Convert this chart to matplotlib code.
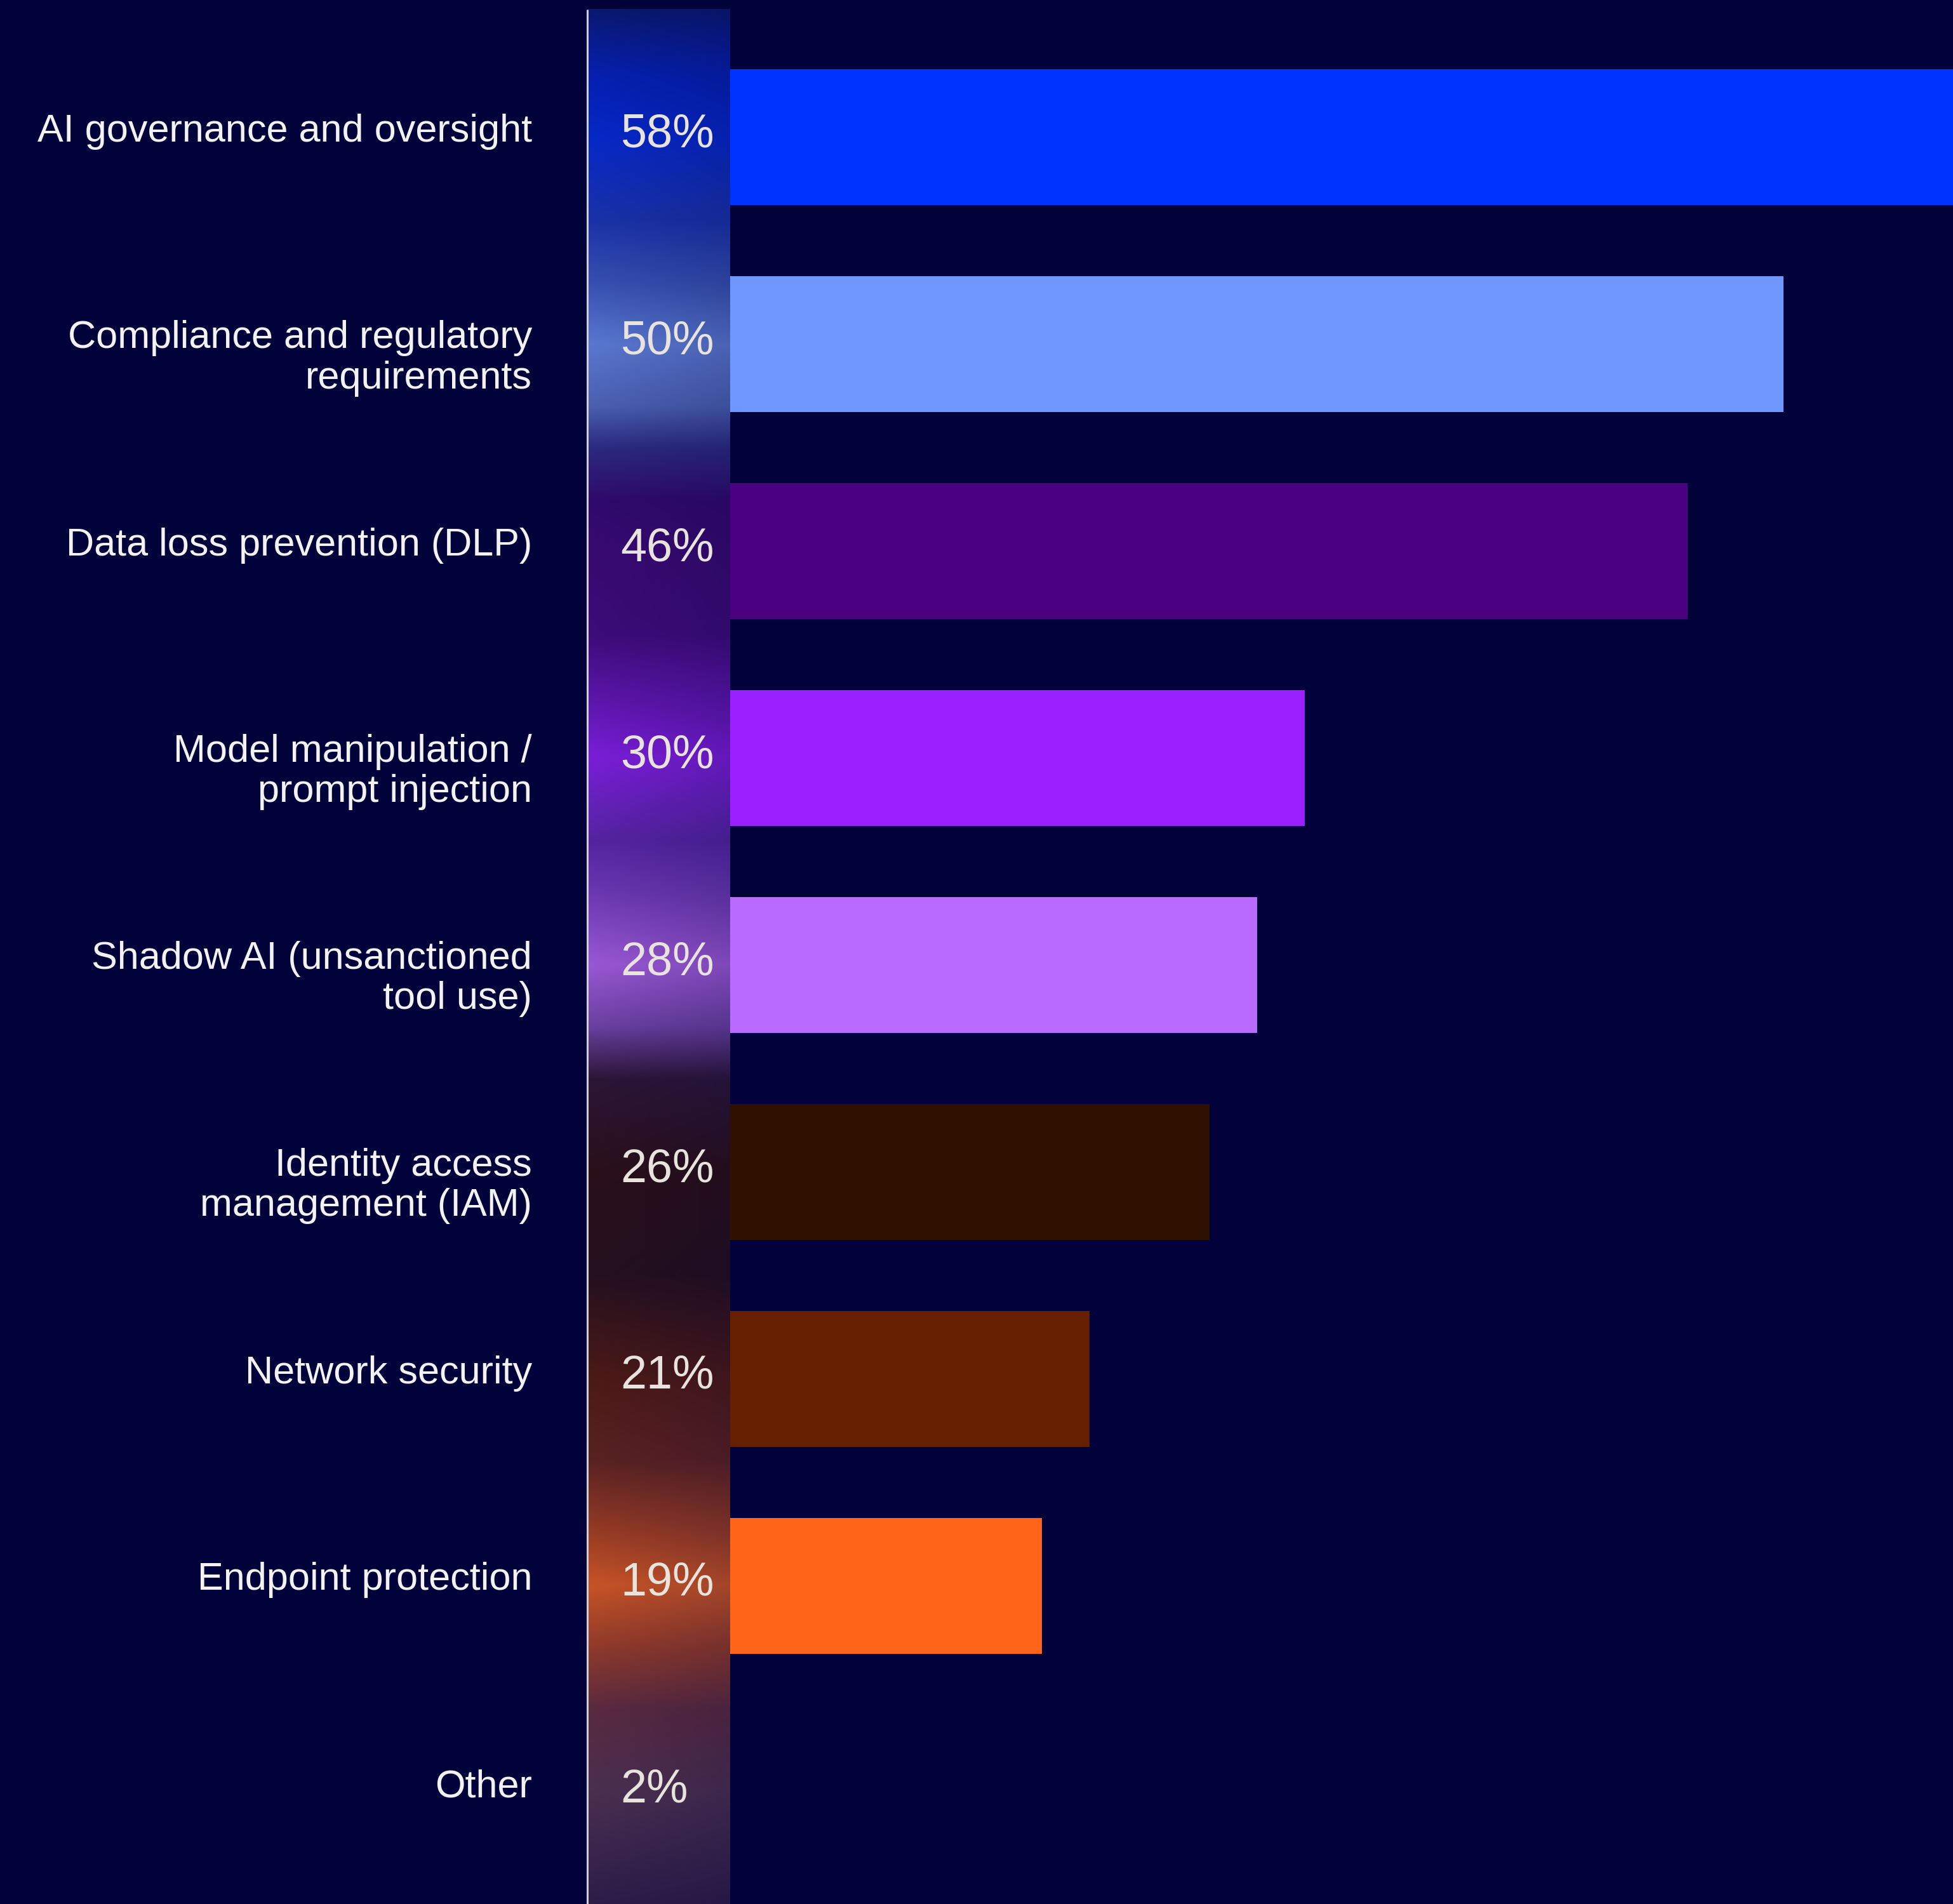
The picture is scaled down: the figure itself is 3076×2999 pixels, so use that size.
import numpy as np
import matplotlib.pyplot as plt
from matplotlib.colors import to_rgb

# Datos
categorias = [
    "AI governance and oversight",
    "Compliance and regulatory\nrequirements",
    "Data loss prevention (DLP)",
    "Model manipulation /\nprompt injection",
    "Shadow AI (unsanctioned\ntool use)",
    "Identity access\nmanagement (IAM)",
    "Network security",
    "Endpoint protection",
    "Other",
]
valores = [58, 50, 46, 30, 28, 26, 21, 19, 2]
colores = ["#0033ff", "#7096ff", "#4a0080", "#9b20ff", "#b96bff",
           "#2f1100", "#662000", "#ff6418", "#8a4a5a"]

# Paradas de color de la columna de porcentajes (posicion en filas, color)
paradas_columna = [
    (-0.62, "#0a1870"), (-0.3, "#0620b0"), (0.0, "#0628c8"), (0.4, "#1a32a8"),
    (0.7, "#3650b0"), (1.0, "#5a78d0"), (1.3, "#4a60b0"), (1.5, "#2c2a80"),
    (1.75, "#300a6c"), (2.0, "#380a70"), (2.4, "#3c0c78"), (3.0, "#7a1ed8"),
    (3.4, "#5424a0"), (3.65, "#6a38b0"), (4.0, "#9a58d4"), (4.3, "#6a40a0"),
    (4.55, "#2c1638"), (5.0, "#2a1018"), (5.5, "#24101e"), (6.0, "#4c1a16"),
    (6.4, "#5a2222"), (6.75, "#983c24"), (7.0, "#c85426"), (7.3, "#903a2a"),
    (7.6, "#5a2a40"), (8.0, "#4a3050"), (8.6, "#2a1a48"),
]

fondo = "#01023a"
blanco = "#f2f2f2"
crema = "#e8e3dc"


def main():
    fig = plt.figure(figsize=(30.76, 29.99), dpi=100, facecolor=fondo)
    ax = fig.add_axes([0, 0, 1, 1])
    ax.set_facecolor(fondo)
    ax.axis("off")

    filas = np.arange(len(valores))
    ax.barh(filas, valores, height=0.655, left=0, color=colores, zorder=2)

    # Columna con degradado detras de los porcentajes
    ancho_col = 5.95
    top_col = -0.617
    fondo_col = 8.6
    ys = np.linspace(top_col, fondo_col, 800)
    pos = [p for p, _ in paradas_columna]
    rgb = np.array([to_rgb(c) for _, c in paradas_columna])
    vertical = np.stack([np.interp(ys, pos, rgb[:, k]) for k in range(3)], axis=-1)
    xs = np.linspace(0, 1, 60)
    t = 0.18 * xs[None, :, None]
    img = vertical[:, None, :] * (1 - t) + np.array(to_rgb(fondo)) * t
    ax.imshow(img, extent=(0, ancho_col, fondo_col, top_col), aspect="auto",
              interpolation="bilinear", zorder=3)
    ax.vlines(0, top_col, fondo_col, color="#cfcfd6", lw=2.2, zorder=4)

    # Etiquetas: la primera linea de cada una alineada con la barra
    salto = 0.193
    for i, (cat, val) in enumerate(zip(categorias, valores)):
        n = cat.count("\n")
        ax.text(-2.31, i + 0.02 + n * salto, cat, ha="right", va="baseline",
                color=blanco, fontsize=44, family="Liberation Sans",
                linespacing=1.15, zorder=5)
        ax.text(1.38, i + 0.046, f"{val}%", ha="left", va="baseline", color=crema,
                fontsize=53, family="Liberation Sans", zorder=5)

    # Escala: 0% en el borde izquierdo de la columna
    ax.set_xlim(-24.56, 57.1)
    ax.set_ylim(8.537, -0.663)
    fig.savefig("out.png", dpi=100, facecolor=fondo)


if __name__ == "__main__":
    main()
